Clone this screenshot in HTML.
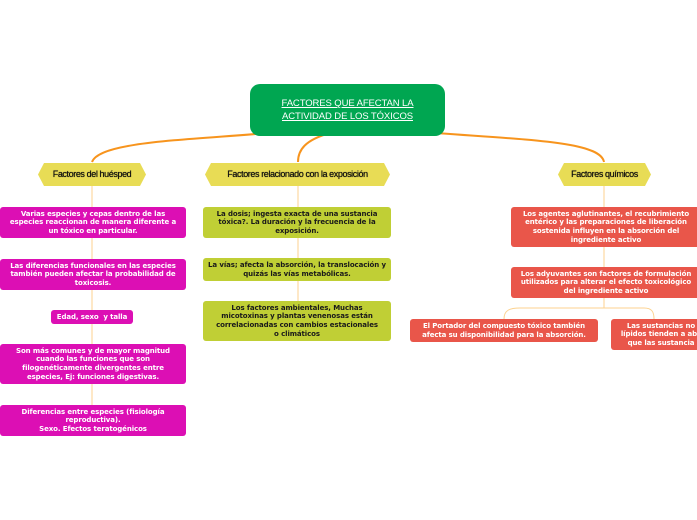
<!DOCTYPE html>
<html><head><meta charset="utf-8"><style>
body{margin:0;width:697px;height:520px;background:#fff;position:relative;overflow:hidden;font-family:"DejaVu Sans","Liberation Sans",sans-serif}
.b{position:absolute;box-sizing:border-box;display:flex;align-items:center;justify-content:center;text-align:center;font-weight:bold;font-size:7px;line-height:8.6px;border-radius:3px;padding:0 4px;letter-spacing:-0.1px}
.m{background:#dc0fb4;color:#fff}
.g{background:#c0cf35;color:#1a1a1a}
.r{background:#e9564a;color:#fff}
.y{background:#e8dc55;color:#111;font-weight:normal;font-size:9px;font-family:"Liberation Sans",sans-serif;letter-spacing:-0.4px;white-space:nowrap;clip-path:polygon(6px 0,calc(100% - 6px) 0,100% 50%,calc(100% - 6px) 100%,6px 100%,0 50%);text-shadow:0 0 0.6px #000}
</style></head><body>
<svg width="697" height="520" style="position:absolute;left:0;top:0">
<g fill="none" stroke="#f7941d" stroke-width="2">
<path d="M290 131 C200 140 100 140 92 162"/>
<path d="M330 133 C305 140 298 150 298 162"/>
<path d="M410 131 C520 140 600 140 604 162"/>
</g>
<g fill="none" stroke="#fcd28f" stroke-width="1">
<path d="M92 186 V420"/>
<path d="M298 186 V320"/>
<path d="M604 186 V308"/>
<path d="M504 319 C504 310 510 308 520 308 H644 C652 308 654 312 654 319"/>
</g>
</svg>
<div class="b" style="left:250px;top:84px;width:195px;height:52px;background:#00a651;color:#fff;border-radius:10px;font-weight:normal;font-size:9.5px;line-height:13px;text-decoration:underline;font-family:'Liberation Sans',sans-serif;padding:0 12px">FACTORES QUE AFECTAN LA ACTIVIDAD DE LOS TÓXICOS</div>
<div class="b y" style="left:38px;top:163px;width:108px;height:23px">Factores del huésped</div>
<div class="b y" style="left:205px;top:163px;width:185px;height:23px">Factores relacionado con la exposición</div>
<div class="b y" style="left:558px;top:163px;width:93px;height:23px">Factores químicos</div>
<div class="b m" style="left:0;top:207px;width:186px;height:31px">Varias especies y cepas dentro de las especies reaccionan de manera diferente a un tóxico en particular.</div>
<div class="b m" style="left:0;top:259px;width:186px;height:31px">Las diferencias funcionales en las especies también pueden afectar la probabilidad de toxicosis.</div>
<div class="b m" style="left:51px;top:310px;width:82px;height:14px;white-space:nowrap">Edad, sexo&nbsp; y talla</div>
<div class="b m" style="left:0;top:344px;width:186px;height:40px;padding:0 14px">Son más comunes y de mayor magnitud cuando las funciones que son filogenéticamente divergentes entre especies, Ej: funciones digestivas.</div>
<div class="b m" style="left:0;top:405px;width:186px;height:31px">Diferencias entre especies (fisiología reproductiva).<br>Sexo. Efectos teratogénicos</div>
<div class="b g" style="left:203px;top:207px;width:188px;height:31px">La dosis; ingesta exacta de una sustancia tóxica?. La duración y la frecuencia de la exposición.</div>
<div class="b g" style="left:203px;top:258px;width:188px;height:23px">La vías; afecta la absorción, la translocación y quizás las vías metabólicas.</div>
<div class="b g" style="left:203px;top:301px;width:188px;height:40px;padding:0 12px">Los factores ambientales, Muchas micotoxinas y plantas venenosas están correlacionadas con cambios estacionales o climáticos</div>
<div class="b r" style="left:511px;top:207px;width:190px;height:40px">Los agentes aglutinantes, el recubrimiento entérico y las preparaciones de liberación sostenida influyen en la absorción del ingrediente activo</div>
<div class="b r" style="left:511px;top:267px;width:190px;height:31px">Los adyuvantes son factores de formulación utilizados para alterar el efecto toxicológico del ingrediente activo</div>
<div class="b r" style="left:410px;top:319px;width:188px;height:23px">El Portador del compuesto tóxico también afecta su disponibilidad para la absorción.</div>
<div class="b r" style="left:611px;top:319px;width:100px;height:31px;white-space:nowrap;padding-left:4px">Las sustancias no<br>lípidos tienden a abs<br>que las sustancia</div>
</body></html>
